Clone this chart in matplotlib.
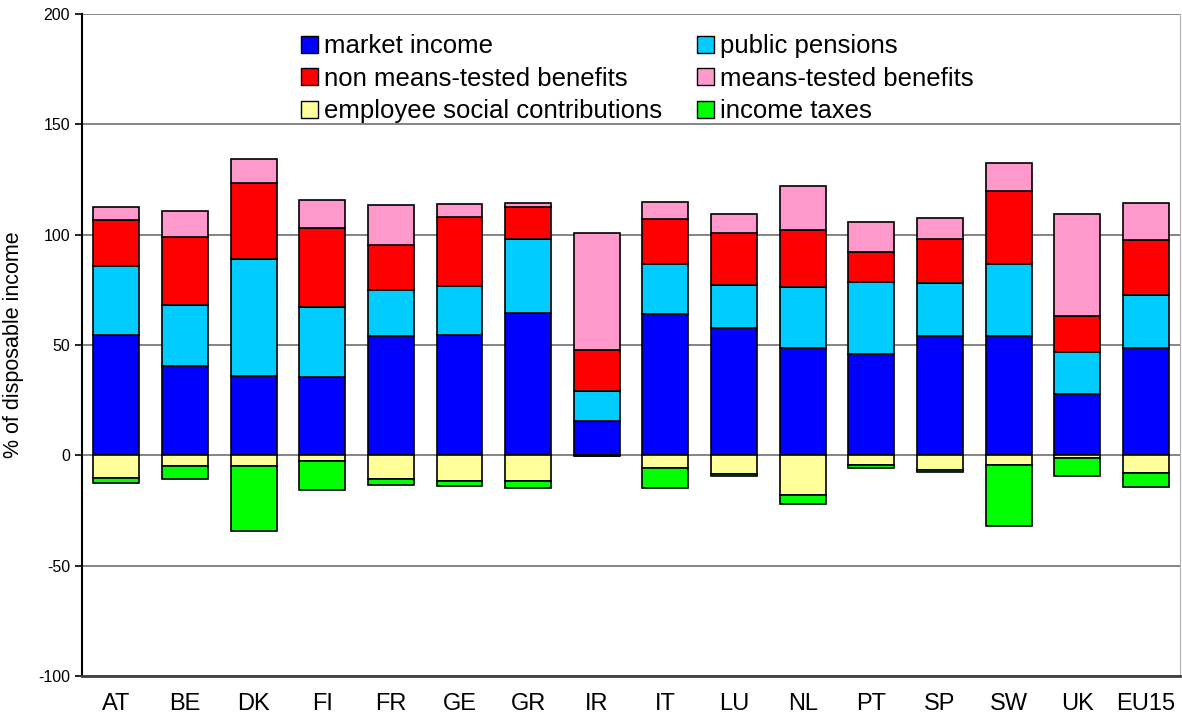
import numpy as np
import matplotlib.pyplot as plt
from matplotlib.patches import Patch

plt.rcParams['font.family'] = ['Liberation Sans', 'DejaVu Sans']
plt.rcParams['axes.unicode_minus'] = False

countries = ['AT', 'BE', 'DK', 'FI', 'FR', 'GE', 'GR', 'IR', 'IT', 'LU',
             'NL', 'PT', 'SP', 'SW', 'UK', 'EU15']

# positive components (% of disposable income)
market_income = [54.4, 40.3, 35.9, 35.3, 53.9, 54.4, 64.7, 15.5, 63.9, 57.9,
                 48.5, 45.9, 54.1, 54.1, 27.8, 48.8]
public_pensions = [31.2, 28.0, 53.2, 31.9, 20.9, 22.2, 33.5, 13.8, 23.0, 19.1,
                   27.6, 32.5, 23.8, 32.8, 19.2, 24.0]
non_means_tested = [20.9, 30.5, 34.5, 35.8, 20.7, 31.4, 14.3, 18.3, 20.3, 23.9,
                    26.2, 13.7, 20.3, 32.9, 16.0, 24.8]
means_tested = [6.0, 11.8, 10.5, 12.7, 17.8, 6.0, 2.0, 53.0, 7.6, 8.4,
                19.7, 13.5, 9.3, 12.5, 46.2, 16.7]

# negative components
employee_contrib = [-10.3, -5.0, -5.0, -2.6, -10.6, -11.6, -11.8, -0.2, -5.7, -8.3,
                    -18.0, -4.2, -6.8, -4.5, -1.0, -8.2]
income_taxes = [-2.1, -5.6, -29.1, -13.3, -3.0, -2.4, -2.8, -0.3, -9.1, -1.1,
                -3.9, -1.4, -0.9, -27.7, -8.2, -6.2]

pos_series = [
    ('market income', market_income, '#0000FF'),
    ('public pensions', public_pensions, '#00CCFF'),
    ('non means-tested benefits', non_means_tested, '#FF0000'),
    ('means-tested benefits', means_tested, '#FF99CC'),
]
neg_series = [
    ('employee social contributions', employee_contrib, '#FFFF99'),
    ('income taxes', income_taxes, '#00FF00'),
]


def main():
    fig = plt.figure(figsize=(11.82, 7.22), dpi=100)
    ax = fig.add_axes([0.0694, 0.0637, 0.929, 0.917])

    x = np.arange(len(countries))
    width = 0.67

    # 正の成分を積み上げ
    bottom = np.zeros(len(countries))
    for name, vals, col in pos_series:
        vals = np.array(vals)
        ax.bar(x, vals, width, bottom=bottom, color=col, edgecolor='black',
               linewidth=1.2, zorder=3)
        bottom += vals

    # 負の成分を下向きに積み上げ
    bottom = np.zeros(len(countries))
    for name, vals, col in neg_series:
        vals = np.array(vals)
        ax.bar(x, vals, width, bottom=bottom, color=col, edgecolor='black',
               linewidth=1.2, zorder=3)
        bottom += vals

    ax.set_xlim(-0.5, len(countries) - 0.5)
    ax.set_ylim(-100, 200)
    ax.set_yticks(np.arange(-100, 201, 50))
    ax.set_xticks(x)
    ax.set_xticklabels(countries, fontsize=17)
    ax.tick_params(axis='x', length=0, pad=12)
    ax.tick_params(axis='y', labelsize=11.5, length=5, width=1.2, direction='out')
    ax.yaxis.grid(True, color='#707070', linewidth=1.2, zorder=0)
    ax.set_ylabel('% of disposable income', fontsize=15.5, labelpad=10)

    ax.spines['top'].set_visible(False)
    ax.spines['right'].set_color('#b0b0b0')
    ax.spines['left'].set_linewidth(1.5)
    ax.spines['bottom'].set_linewidth(2)
    ax.spines['bottom'].set_color('#404040')

    colors = {n: c for n, v, c in pos_series + neg_series}
    order = ['market income', 'non means-tested benefits',
             'employee social contributions', 'public pensions',
             'means-tested benefits', 'income taxes']
    handles = [Patch(facecolor=colors[n], edgecolor='black', linewidth=1) for n in order]
    ax.legend(handles, order, ncol=2, loc='upper left', bbox_to_anchor=(0.19, 0.985),
              frameon=False, fontsize=18.5, handlelength=0.65, handleheight=0.65,
              handletextpad=0.25, columnspacing=1.35, labelspacing=0.33,
              borderaxespad=0)

    fig.savefig('out.png', dpi=100)


if __name__ == '__main__':
    main()
